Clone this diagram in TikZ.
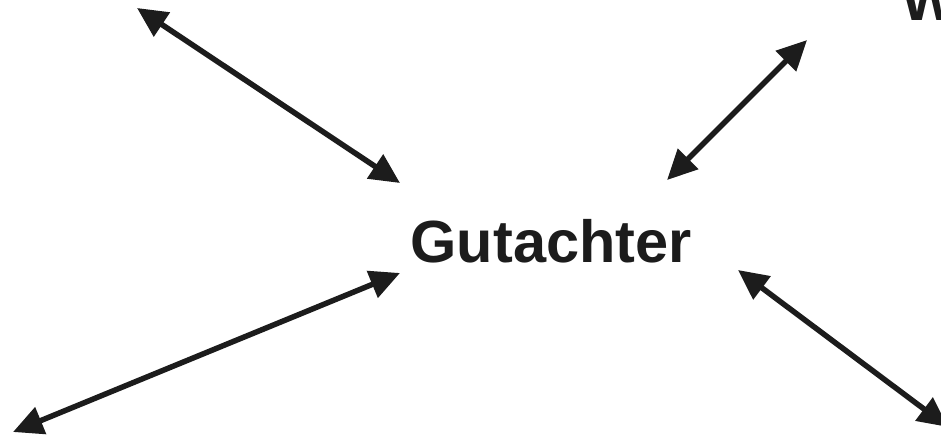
\documentclass[tikz,border=0pt]{standalone}
\usepackage{fontspec}
\setmainfont{Liberation Sans}
\usetikzlibrary{arrows.meta}
\begin{document}
\begin{tikzpicture}[x=1pt,y=-1pt,
  link/.style={line width=5.5pt, draw={rgb,255:red,28;green,28;blue,28},
    {Triangle[length=30pt,width=28pt]}-{Triangle[length=30pt,width=28pt]}},
  label/.style={inner sep=0pt, anchor=base west, text={rgb,255:red,28;green,28;blue,28},
    font=\fontsize{59.5}{60}\selectfont\bfseries}]
\useasboundingbox (0,0) rectangle (941,436);
\clip (0,0) rectangle (941,436);
\fill[white] (0,0) rectangle (941,436);
\node[label] (g) at (410.5,262) {Gutachter};
\node[label] (w) at (901.5,21) {W};
\coordinate (a1) at (137,8);
\coordinate (a2) at (400,183);
\coordinate (b1) at (13,432);
\coordinate (b2) at (400,273);
\coordinate (c1) at (807,40);
\coordinate (c2) at (667,180);
\coordinate (d1) at (738,270);
\coordinate (d2) at (948,427);
\draw[link] (a1) -- (a2);
\draw[link] (b1) -- (b2);
\draw[link] (c1) -- (c2);
\draw[link] (d1) -- (d2);
\end{tikzpicture}
\end{document}
